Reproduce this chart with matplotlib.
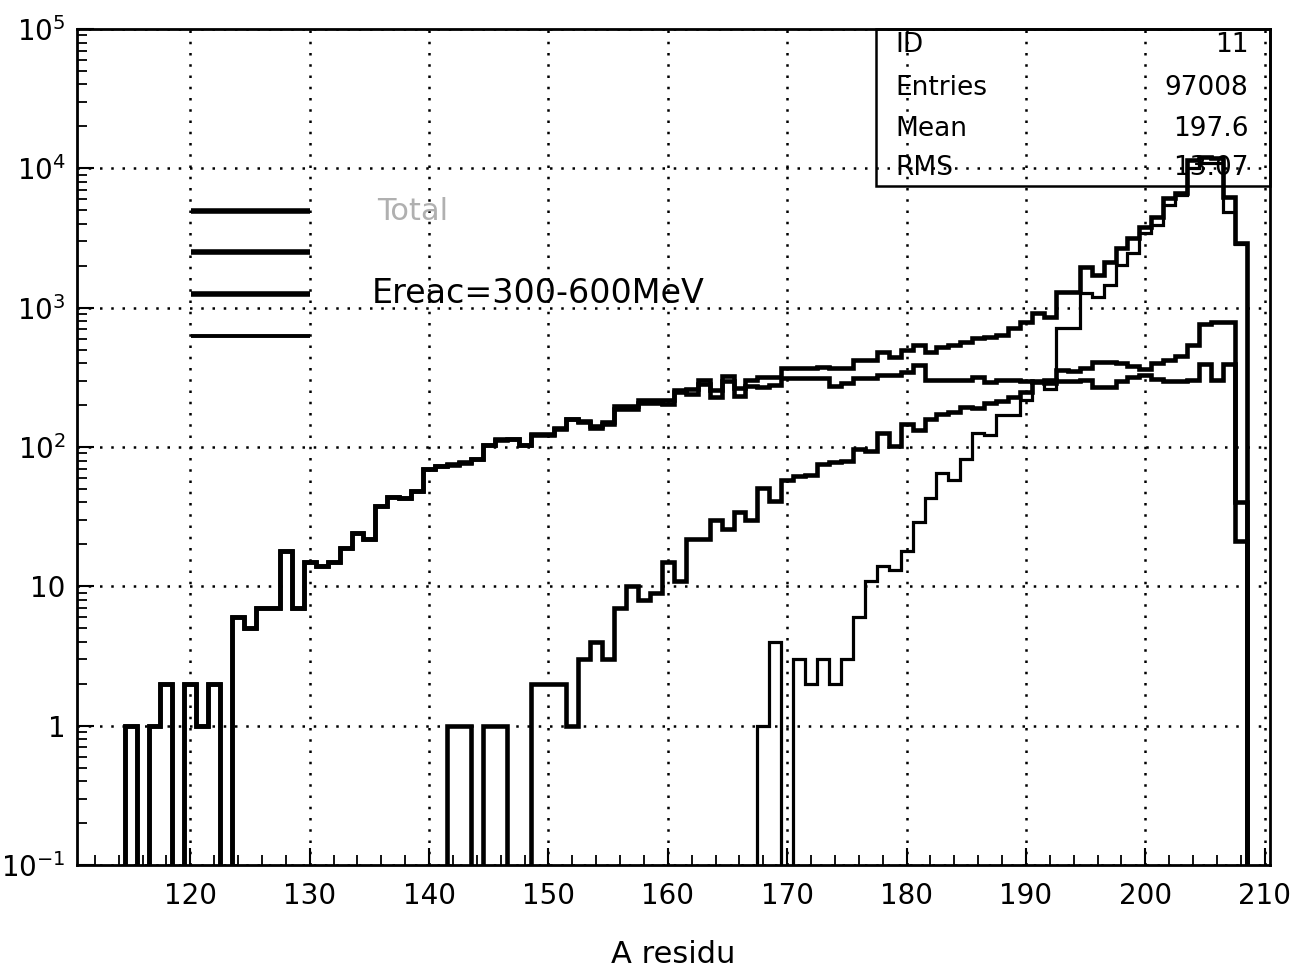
import matplotlib
matplotlib.use("Agg")
import matplotlib.pyplot as plt
import numpy as np
from matplotlib.ticker import MultipleLocator, LogLocator, NullFormatter
from matplotlib.patches import Rectangle

plt.rcParams['font.family'] = ['DejaVu Sans']
plt.rcParams['mathtext.fontset'] = 'dejavusans'

# bins of A residu: 111 ... 210 (width 1)
bin_edges = np.arange(110.5, 211.0, 1.0)

# total distribution
total = [0, 0, 0, 0, 1, 0, 1, 2, 0, 2,
         1, 2, 0, 6, 5, 7, 7, 18, 7, 15,
         14, 15, 19, 24, 22, 38, 44, 43, 48, 69,
         73, 75, 78, 82, 104, 114, 114, 104, 123, 123,
         137, 160, 155, 141, 150, 196, 196, 216, 216, 217,
         258, 262, 305, 258, 322, 265, 305, 320, 320, 370,
         372, 372, 375, 370, 367, 421, 421, 483, 445, 497,
         540, 483, 525, 540, 570, 603, 620, 637, 711, 795,
         920, 862, 1300, 1300, 1967, 1714, 2137, 2667, 3148, 3812,
         4500, 6100, 6600, 11500, 12000, 11800, 6200, 2900, 0, 0]

# flat component
comp_flat = [0, 0, 0, 0, 1, 0, 1, 2, 0, 2,
             1, 2, 0, 6, 5, 7, 7, 18, 7, 15,
             14, 15, 19, 24, 22, 38, 44, 43, 48, 69,
             73, 74, 77, 82, 103, 113, 114, 104, 121, 121,
             135, 159, 152, 137, 147, 189, 186, 208, 207, 202,
             247, 240, 283, 228, 296, 231, 275, 269, 279, 313,
             313, 313, 315, 275, 287, 315, 315, 330, 330, 348,
             390, 303, 303, 303, 303, 320, 295, 303, 303, 300,
             295, 303, 300, 300, 303, 270, 270, 300, 320, 330,
             310, 300, 300, 303, 395, 303, 395, 40, 0, 0]

# rising component
comp_rise = [0, 0, 0, 0, 0, 0, 0, 0, 0, 0,
             0, 0, 0, 0, 0, 0, 0, 0, 0, 0,
             0, 0, 0, 0, 0, 0, 0, 0, 0, 0,
             0, 1, 1, 0, 1, 1, 0, 0, 2, 2,
             2, 1, 3, 4, 3, 7, 10, 8, 9, 15,
             11, 22, 22, 30, 26, 34, 30, 51, 41, 58,
             62, 63, 75, 78, 80, 96, 94, 126, 101, 147,
             133, 160, 173, 178, 195, 190, 206, 215, 230, 250,
             300, 290, 360, 350, 370, 405, 410, 400, 380, 365,
             400, 420, 450, 536, 760, 790, 790, 21, 0, 0]

# heavy residue component (thin line)
comp_heavy = [0, 0, 0, 0, 0, 0, 0, 0, 0, 0,
              0, 0, 0, 0, 0, 0, 0, 0, 0, 0,
              0, 0, 0, 0, 0, 0, 0, 0, 0, 0,
              0, 0, 0, 0, 0, 0, 0, 0, 0, 0,
              0, 0, 0, 0, 0, 0, 0, 0, 0, 0,
              0, 0, 0, 0, 0, 0, 0, 1, 4, 0,
              3, 2, 3, 2, 3, 6, 11, 14, 13, 18,
              29, 43, 65, 58, 82, 127, 122, 169, 169, 219,
              292, 261, 711, 711, 1267, 1200, 1455, 2025, 2454, 3414,
              3918, 5455, 6440, 10000, 11000, 11000, 4900, 2850, 0, 0]

stat_names = ['ID', 'Entries', 'Mean', 'RMS']
stat_values = ['11', '97008', '197.6', '13.07']

x_ticks = [120, 130, 140, 150, 160, 170, 180, 190, 200, 210]
y_ticks = [1e-1, 1, 10, 1e2, 1e3, 1e4, 1e5]
y_ticklabels = [r'$10^{-1}$', '1', '10', r'$10^{2}$', r'$10^{3}$', r'$10^{4}$', r'$10^{5}$']

fig = plt.figure(figsize=(13.04, 9.77), dpi=100)
ax = fig.add_axes([0.059, 0.1146, 0.915, 0.8557])
ax.set_yscale('log')
ax.set_xlim(110.5, 210.45)
ax.set_ylim(1e-1, 1e5)

series = [(total, 3.3), (comp_flat, 3.3), (comp_rise, 3.3), (comp_heavy, 2.3)]
for vals, lw in series:
    v = np.asarray(vals, dtype=float)
    v = np.where(v > 0, v, 1e-4)
    ax.stairs(v, bin_edges, baseline=None, color='black', linewidth=lw, zorder=3)

# grid and ticks
ax.grid(True, which='major', color='black', linestyle=(0, (1, 3.5)), linewidth=1.8)
ax.set_xticks(x_ticks)
ax.set_xticklabels([str(t) for t in x_ticks])
ax.xaxis.set_minor_locator(MultipleLocator(2))
ax.set_yticks(y_ticks)
ax.set_yticklabels(y_ticklabels)
ax.yaxis.set_minor_locator(LogLocator(base=10, subs=np.arange(2, 10)))
ax.yaxis.set_minor_formatter(NullFormatter())
ax.tick_params(which='both', direction='in', top=False, right=False, color='black')
ax.tick_params(which='major', length=12, width=1.5, labelsize=20)
ax.tick_params(axis='x', which='major', pad=12)
ax.tick_params(axis='y', which='major', pad=8)
ax.tick_params(which='minor', length=7, width=1.3)
for sp in ax.spines.values():
    sp.set_linewidth(2)

ax.set_xlabel('A residu', fontsize=22, labelpad=22)

# legend lines (drawn like the original key)
key_y = [0.782, 0.733, 0.683, 0.633]
key_lw = [4, 4, 4, 2.8]
for yk, lwk in zip(key_y, key_lw):
    ax.plot([0.0956, 0.195], [yk, yk], transform=ax.transAxes, color='black',
            linewidth=lwk, solid_capstyle='butt', zorder=4)
ax.text(0.252, 0.782, 'Total', transform=ax.transAxes, fontsize=22,
        color='#b0b0b0', va='center', ha='left')
ax.text(0.247, 0.684, 'Ereac=300-600MeV', transform=ax.transAxes, fontsize=24,
        color='black', va='center', ha='left')

# statistics box
ax.add_patch(Rectangle((0.67, 0.812), 0.33, 0.188, transform=ax.transAxes,
                       fill=False, edgecolor='black', linewidth=1.8, zorder=5,
                       clip_on=False))
row_y = [0.981, 0.929, 0.881, 0.834]
for name, val, yr in zip(stat_names, stat_values, row_y):
    ax.text(0.686, yr, name, transform=ax.transAxes, fontsize=19, va='center', ha='left')
    ax.text(0.982, yr, val, transform=ax.transAxes, fontsize=19, va='center', ha='right')

fig.savefig('out.png', dpi=100, facecolor='white')
